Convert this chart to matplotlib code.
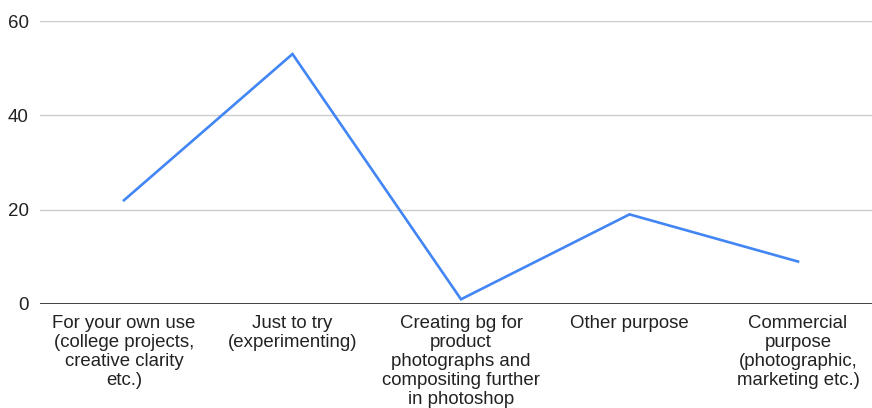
import matplotlib.pyplot as plt

plt.rcParams['font.family'] = ['Liberation Sans', 'DejaVu Sans']

categories = [
    "For your own use\n(college projects,\ncreative clarity\netc.)",
    "Just to try\n(experimenting)",
    "Creating bg for\nproduct\nphotographs and\ncompositing further\nin photoshop",
    "Other purpose",
    "Commercial\npurpose\n(photographic,\nmarketing etc.)",
]
counts = [22, 53, 1, 19, 9]
y_ticks = [0, 20, 40, 60]

fig = plt.figure(figsize=(8.72, 4.08), dpi=100)
ax = fig.add_axes([39.75 / 872, 104 / 408, 842.5 / 872, 283 / 408])

x = list(range(len(categories)))
ax.plot(x, counts, color='#4285F4', linewidth=1.9, solid_joinstyle='miter', zorder=3)

ax.set_xlim(-0.5, len(categories) - 0.5)
ax.set_ylim(0, 60)
ax.set_yticks(y_ticks)
ax.set_yticklabels([str(v) for v in y_ticks], fontsize=13.5, color='#222222')
ax.tick_params(axis='y', length=0, pad=8)
ax.tick_params(axis='x', length=0)
ax.set_xticks(x)
ax.set_xticklabels([])

for yv in y_ticks[1:]:
    ax.axhline(yv, color='#cccccc', linewidth=1, zorder=1)
ax.axhline(0, color='#333333', linewidth=1.3, zorder=2)

for i, lab in enumerate(categories):
    ax.text(i, -2.4, lab, ha='center', va='top', fontsize=13.4,
            color='#222222', linespacing=1.14, clip_on=False)

for s in ax.spines.values():
    s.set_visible(False)

fig.savefig('out.png', dpi=100)
